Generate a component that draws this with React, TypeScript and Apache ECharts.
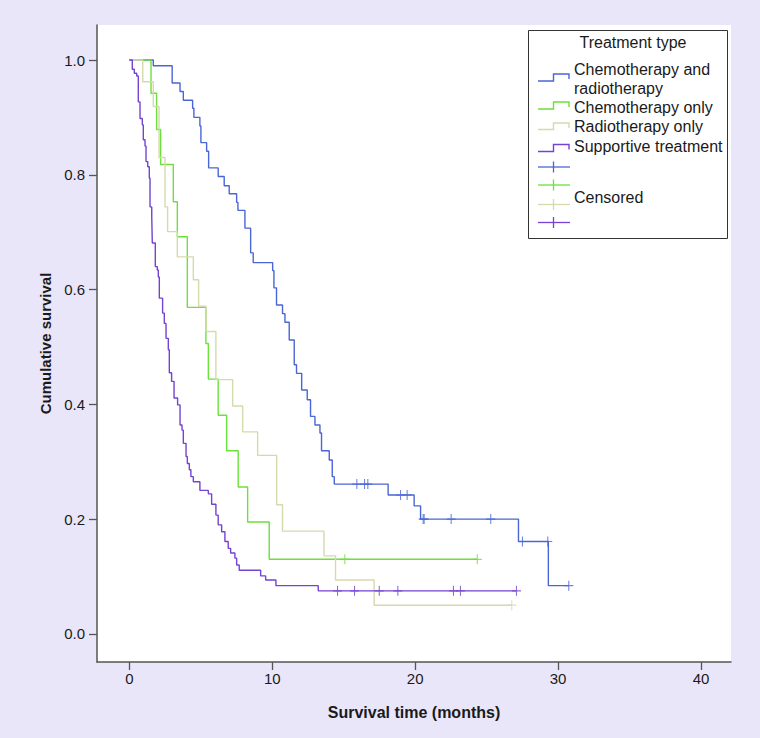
import { useEffect, useRef } from "react";
import * as echarts from "echarts";

// ---------- data ----------
const X_TICKS = [0, 10, 20, 30, 40];
const Y_TICKS = [0, 0.2, 0.4, 0.6, 0.8, 1.0];

const SERIES_NAMES = [
  "Chemotherapy and radiotherapy",
  "Chemotherapy only",
  "Radiotherapy only",
  "Supportive treatment",
];

// Chemotherapy and radiotherapy
const chemoRadioTimes = [
  0, 1.68, 3.0, 3.55, 3.78, 4.43, 4.52, 4.94, 5.01, 5.41, 5.55, 6.22, 6.64, 6.99, 7.51, 7.6, 8.09, 8.49,
  8.67, 10.03, 10.12, 10.3, 10.72, 10.89, 11.19, 11.54, 11.7, 12.06, 12.45, 12.68, 12.99, 13.34, 13.45,
  13.99, 14.2, 14.34, 18.11, 19.93, 20.38, 27.23, 29.32,
];
const chemoRadioSurvival = [
  1.0, 0.99, 0.96, 0.945, 0.93, 0.916, 0.9, 0.885, 0.856, 0.841, 0.812, 0.797, 0.781, 0.767, 0.752, 0.738,
  0.707, 0.664, 0.647, 0.633, 0.603, 0.573, 0.558, 0.543, 0.512, 0.469, 0.454, 0.425, 0.408, 0.379, 0.364,
  0.35, 0.319, 0.303, 0.274, 0.261, 0.242, 0.223, 0.2, 0.161, 0.084,
];
const chemoRadioCensored = [15.92, 16.46, 16.69, 18.98, 19.44, 20.56, 20.63, 22.52, 25.29, 27.51, 29.28, 30.75];

// Chemotherapy only
const chemoTimes = [0, 1.52, 1.91, 2.19, 3.08, 3.36, 4.06, 5.36, 5.53, 6.22, 6.81, 7.62, 8.28, 9.79];
const chemoSurvival = [1.0, 0.942, 0.879, 0.818, 0.753, 0.692, 0.569, 0.506, 0.444, 0.381, 0.319, 0.256, 0.195, 0.13];
const chemoCensored = [15.08, 24.35];

// Radiotherapy only
const radioTimes = [
  0, 0.94, 1.68, 2.08, 2.5, 2.68, 3.36, 4.48, 4.85, 5.36, 6.06, 7.23, 7.93, 8.98, 10.31, 10.72, 13.62, 14.43, 17.13,
];
const radioSurvival = [
  1.0, 0.962, 0.919, 0.83, 0.744, 0.701, 0.657, 0.617, 0.571, 0.527, 0.443, 0.397, 0.352, 0.311, 0.225, 0.179,
  0.136, 0.094, 0.05,
];
const radioCensored = [26.76];

// Supportive treatment
const supportiveTimes = [
  0, 0.21, 0.35, 0.52, 0.63, 0.75, 0.91, 0.98, 1.1, 1.17, 1.29, 1.4, 1.45, 1.57, 1.61, 1.82, 1.96, 2.03, 2.1, 2.33,
  2.45, 2.57, 2.73, 2.8, 2.96, 3.13, 3.38, 3.55, 3.69, 3.78, 3.97, 4.06, 4.2, 4.31, 4.48, 4.94, 5.53, 5.76, 6.06,
  6.22, 6.46, 6.69, 6.92, 7.09, 7.39, 7.51, 7.69, 9.19, 9.54, 10.26, 13.22,
];
const supportiveSurvival = [
  1.0, 0.984, 0.977, 0.972, 0.927, 0.898, 0.887, 0.861, 0.85, 0.823, 0.814, 0.794, 0.744, 0.727, 0.681, 0.64, 0.634,
  0.622, 0.585, 0.559, 0.541, 0.515, 0.495, 0.455, 0.44, 0.411, 0.399, 0.364, 0.355, 0.332, 0.309, 0.297, 0.286,
  0.274, 0.265, 0.25, 0.244, 0.226, 0.207, 0.19, 0.178, 0.161, 0.149, 0.141, 0.132, 0.12, 0.111, 0.101, 0.094,
  0.084, 0.075,
];
const supportiveCensored = [14.57, 15.76, 17.49, 18.79, 22.68, 23.17, 27.09];

// ---------- styling ----------
const COLORS = ["#4a66d6", "#6ce03c", "#d6d9ac", "#7443d2"];
const FONT = "'Liberation Sans', Arial, Helvetica, sans-serif";
const CROSS =
  "path://M4.4,0 L5.6,0 L5.6,4.4 L10,4.4 L10,5.6 L5.6,5.6 L5.6,10 L4.4,10 L4.4,5.6 L0,5.6 L0,4.4 L4.4,4.4 Z";

function survivalAt(times: number[], surv: number[], t: number) {
  let v = surv[0];
  for (let i = 0; i < times.length; i++) if (times[i] <= t) v = surv[i];
  return v;
}

function buildSeries(idx: number, times: number[], surv: number[], censored: number[]) {
  const end = Math.max(...censored);
  const lineData = times.map((t, i) => [t, surv[i]]);
  lineData.push([end, survivalAt(times, surv, end)]);
  const censorData = censored.map((t) => [t, survivalAt(times, surv, t)]);
  return [
    {
      name: SERIES_NAMES[idx],
      type: "line",
      step: "end",
      data: lineData,
      showSymbol: false,
      symbol: "none",
      lineStyle: { color: COLORS[idx], width: 1.4 },
      z: 2 + idx,
      silent: true,
    },
    {
      name: SERIES_NAMES[idx] + " censored",
      type: "scatter",
      data: censorData,
      symbol: CROSS,
      symbolSize: [9, 10],
      itemStyle: { color: COLORS[idx] },
      z: 10 + idx,
      silent: true,
    },
  ];
}

export default function App() {
  const ref = useRef<HTMLDivElement>(null);

  useEffect(() => {
    if (!ref.current) return;
    const chart = echarts.init(ref.current, undefined, { renderer: "svg" });

    const axisColor = "#555555";
    const legendRows = [
      { low: 81, high: 74 },
      { low: 109, high: 102 },
      { low: 129.5, high: 123 },
      { low: 151.5, high: 144.5 },
    ];
    const crossRows = [167, 185, 204.5, 222.5];
    const legendTexts = [
      { text: "Chemotherapy and", y: 69 },
      { text: "radiotherapy", y: 88 },
      { text: "Chemotherapy only", y: 107 },
      { text: "Radiotherapy only", y: 126.5 },
      { text: "Supportive treatment", y: 146.5 },
      { text: "Censored", y: 197.5 },
    ];

    const graphics: any[] = [
      {
        type: "rect",
        shape: { x: 528.5, y: 30.5, width: 199, height: 208 },
        style: { fill: "#ffffff", stroke: "#333333", lineWidth: 1 },
        z: 50,
      },
      {
        type: "text",
        style: {
          text: "Treatment type",
          x: 633,
          y: 42,
          fill: "#1a1a1a",
          font: `16px ${FONT}`,
          align: "center",
          verticalAlign: "middle",
          textAlign: "center",
          textVerticalAlign: "middle",
        },
        z: 51,
      },
      ...legendTexts.map((t) => ({
        type: "text",
        style: {
          text: t.text,
          x: 574,
          y: t.y,
          fill: "#1a1a1a",
          font: `16px ${FONT}`,
          align: "left",
          verticalAlign: "middle",
          textAlign: "left",
          textVerticalAlign: "middle",
        },
        z: 51,
      })),
      ...legendRows.map((r, i) => ({
        type: "polyline",
        shape: {
          points: [
            [538, r.low],
            [553.5, r.low],
            [553.5, r.high],
            [569, r.high],
            [569, r.high + 5],
          ],
        },
        style: { stroke: COLORS[i], lineWidth: 1.4, fill: null },
        z: 51,
      })),
      ...crossRows.flatMap((y, i) => [
        {
          type: "line",
          shape: { x1: 538, y1: y, x2: 570, y2: y },
          style: { stroke: COLORS[i], lineWidth: 1.3 },
          z: 51,
        },
        {
          type: "line",
          shape: { x1: 553.5, y1: y - 5.5, x2: 553.5, y2: y + 5.5 },
          style: { stroke: COLORS[i], lineWidth: 1.3 },
          z: 51,
        },
      ]),
    ];

    const option: any = {
      animation: false,
      backgroundColor: "#e9e6fa",
      textStyle: { fontFamily: FONT },
      grid: {
        left: 97,
        top: 25,
        width: 634,
        height: 637,
        show: true,
        backgroundColor: "#ffffff",
        borderWidth: 0,
        containLabel: false,
      },
      xAxis: {
        type: "value",
        min: -2.26,
        max: 42.1,
        name: "Survival time (months)",
        nameLocation: "middle",
        nameGap: 42,
        nameTextStyle: { fontSize: 16, fontWeight: "bold", color: "#1a1a1a", fontFamily: FONT },
        axisLine: { show: true, onZero: false, lineStyle: { color: axisColor, width: 1.5 } },
        axisTick: { show: true, length: 8, customValues: X_TICKS, lineStyle: { color: axisColor, width: 1.3 } },
        axisLabel: {
          customValues: X_TICKS,
          fontSize: 15,
          color: "#1a1a1a",
          margin: 9,
          fontFamily: FONT,
          formatter: (v: number) => String(v),
        },
        splitLine: { show: false },
      },
      yAxis: {
        type: "value",
        min: -0.049,
        max: 1.061,
        name: "Cumulative survival",
        nameLocation: "middle",
        nameRotate: 90,
        nameGap: 44,
        nameTextStyle: { fontSize: 15, fontWeight: "bold", color: "#1a1a1a", fontFamily: FONT },
        axisLine: { show: true, onZero: false, lineStyle: { color: axisColor, width: 1.5 } },
        axisTick: { show: true, length: 8, customValues: Y_TICKS, lineStyle: { color: axisColor, width: 1.3 } },
        axisLabel: {
          customValues: Y_TICKS,
          fontSize: 15,
          color: "#1a1a1a",
          margin: 12,
          fontFamily: FONT,
          formatter: (v: number) => v.toFixed(1),
        },
        splitLine: { show: false },
      },
      series: [
        ...buildSeries(0, chemoRadioTimes, chemoRadioSurvival, chemoRadioCensored),
        ...buildSeries(2, radioTimes, radioSurvival, radioCensored),
        ...buildSeries(1, chemoTimes, chemoSurvival, chemoCensored),
        ...buildSeries(3, supportiveTimes, supportiveSurvival, supportiveCensored),
      ],
      graphic: graphics,
    };

    chart.setOption(option);
    return () => chart.dispose();
  }, []);

  return (
    <div
      ref={ref}
      style={{ position: "absolute", left: 0, top: 0, width: 760, height: 738 }}
    />
  );
}
